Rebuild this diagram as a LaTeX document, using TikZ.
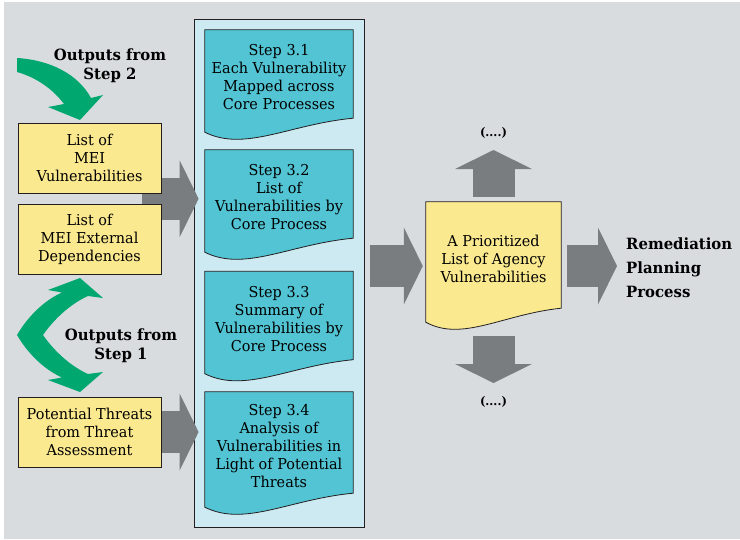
\documentclass[tikz,border=0pt]{standalone}
\usepackage{fontspec}
\setmainfont{DejaVu Serif}[FakeStretch=0.96]
\usetikzlibrary{arrows.meta, calc, positioning}

\pgfdeclarelayer{back}
\pgfdeclarelayer{mid}
\pgfsetlayers{back,mid,main}

\definecolor{bggray}{HTML}{D8DCDF}
\definecolor{panelblue}{HTML}{CDEAF2}
\definecolor{stepteal}{HTML}{52C4D3}
\definecolor{listyellow}{HTML}{FBE990}
\definecolor{outgreen}{HTML}{00A870}
\definecolor{arrowgray}{HTML}{7A7D80}
\definecolor{edge}{HTML}{231F20}

% page outline with a wavy foot, drawn round a node
\newcommand{\wavydoc}[2]{%
\filldraw[fill=#2, draw=edge, line width=0.8pt]
(#1.north west) -- (#1.north east) -- ($(#1.south east)+(0,-7)$)
.. controls ($(#1.south west)!0.57!(#1.south east)+(0,-1)$)
and ($(#1.south west)!0.27!(#1.south east)+(0,27)$)
.. ($(#1.south west)+(0,7)$) -- cycle ;
}

\begin{document}
\begin{tikzpicture}[x=1pt, y=-1pt,
listbox/.style={draw=edge, line width=0.8pt, fill=listyellow, minimum width=143pt,
  minimum height=70pt, inner sep=0pt, align=center, font=\fontsize{15}{18}\selectfont},
stepdoc/.style={minimum width=148pt, minimum height=95pt, inner sep=0pt, align=center,
  font=\fontsize{15}{18}\selectfont},
outlabel/.style={align=center, inner sep=0pt, font=\bfseries\fontsize{15.5}{19}\selectfont},
dotlabel/.style={inner sep=0pt, font=\bfseries\fontsize{12}{15}\selectfont},
fatarrow/.style={arrowgray, line width=42pt,
  -{Triangle[length=19pt, width=77pt, line width=0pt]}},
]
\useasboundingbox (0,0) rectangle (740,539);

% inputs
\node[listbox] (mei-vuln) at (89.5,158) {List of\\MEI\\Vulnerabilities};
\node[listbox] (mei-dep) at (89.5,239.5) {List of\\MEI External\\Dependencies};
\node[listbox] (threats) at (89.5,432) {Potential Threats\\from Threat\\Assessment};

\path
(110,66) node[outlabel] (out2) {Outputs from\\Step 2}
(121,346) node[outlabel] (out1) {Outputs from\\Step 1}
;

% green arrows
\fill[outgreen] (17,58) .. controls (50,60) and (78,74) .. (91,98)
-- (103,95) -- (80,120) -- (48,107) -- (64,104)
.. controls (52,88) and (35,77) .. (17,72) -- cycle ;
\fill[outgreen] (17,335) .. controls (28,316) and (45,300) .. (62,292.5)
-- (48,290) -- (80,278) -- (103,298) -- (88,296)
.. controls (68,305) and (52,322) .. (43,335)
.. controls (52,348) and (68,365) .. (88,374)
-- (103,372) -- (80,392) -- (48,380) -- (62,377.5)
.. controls (45,370) and (28,354) .. (17,335) -- cycle ;

% step 3 documents
\node[stepdoc] (step31) at (279,77.5) {Step 3.1\\Each Vulnerability\\Mapped across\\Core Processes};
\node[stepdoc] (step32) at (279,197.5) {Step 3.2\\List of\\Vulnerabilities by\\Core Process};
\node[stepdoc] (step33) at (279,319) {Step 3.3\\Summary of\\Vulnerabilities by\\Core Process};
\node[stepdoc, minimum height=108pt] (step34) at (279,446) {Step 3.4\\Analysis of\\Vulnerabilities in\\Light of Potential\\Threats};

% result
\node[stepdoc, minimum width=135pt, minimum height=113pt] (prio) at (493.5,258.5)
{A Prioritized\\List of Agency\\Vulnerabilities};
\node[outlabel, align=left, anchor=west, font=\bfseries\fontsize{15.5}{24}\selectfont]
(remed) at (626,268) {Remediation\\Planning\\Process};
\path
(493.5,133) node[dotlabel] (dots-up) {(....)}
(493.5,402) node[dotlabel] (dots-down) {(....)}
;
\coordinate (prio-axis) at ([yshift=-7.5pt]prio.center);

% background and panel
\begin{pgfonlayer}{back}
\fill[bggray] (4,2) rectangle (740,539);
\node[draw=edge, line width=0.8pt, fill=panelblue, minimum width=170pt,
  minimum height=508pt] (panel) at (279,273) {};
\end{pgfonlayer}

% documents and block arrows
\begin{pgfonlayer}{mid}
\wavydoc{step31}{stepteal}
\wavydoc{step32}{stepteal}
\wavydoc{step33}{stepteal}
\wavydoc{step34}{stepteal}
\wavydoc{prio}{listyellow}

\coordinate (feed) at ($(mei-vuln.south east)!0.5!(mei-dep.north east)$);
\draw[fatarrow] ([xshift=-19pt]feed) -- ([xshift=5pt]feed -| panel.west);
\draw[fatarrow] ([xshift=-19pt]threats.east) -- ([xshift=5pt]threats.east -| panel.west);
\draw[fatarrow] ([xshift=6pt]panel.east |- prio-axis) -- ([xshift=-3pt]prio.west |- prio-axis);
\draw[fatarrow] ([xshift=6pt]prio.east |- prio-axis) -- ([xshift=-9pt]remed.west |- prio-axis);
\draw[fatarrow] ([yshift=5pt]prio.north) -- ([yshift=-17pt]dots-up.center);
\draw[fatarrow] ([yshift=-21pt]prio.south) -- ([yshift=19pt]dots-down.center);
\end{pgfonlayer}

\end{tikzpicture}
\end{document}
